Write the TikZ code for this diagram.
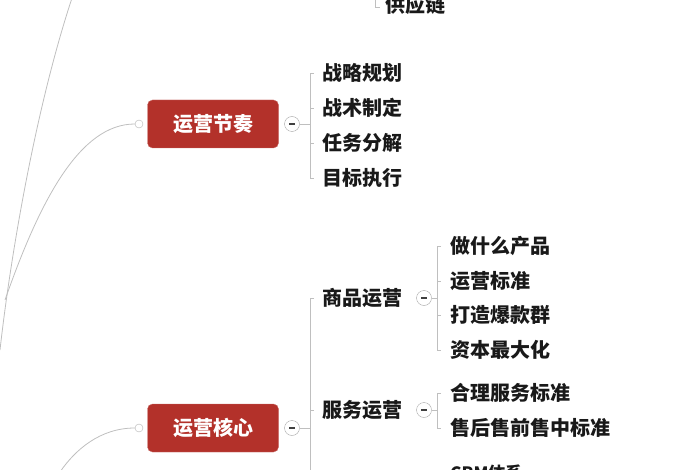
\documentclass[tikz,border=0pt]{standalone}
\usepackage{fontspec}
\setmainfont{Noto Sans CJK SC}
\definecolor{boxred}{HTML}{B3312A}
\begin{document}
\begin{tikzpicture}[x=1pt,y=-1pt,
  redbox/.style={draw=boxred!70, fill=boxred, rounded corners=5pt, minimum width=131pt, minimum height=48pt, text=white, font=\fontsize{20}{22}\selectfont\bfseries},
  leaf/.style={anchor=west, inner sep=0pt, text=black!90, font=\fontsize{20}{22}\selectfont\bfseries},
  conn/.style={draw=black!25, line width=0.8pt},
  knob/.style={circle, draw=black!30, fill=white, minimum size=8pt, inner sep=0pt},
  minus/.style={circle, draw=black!35, fill=white, minimum size=15pt, inner sep=0pt, path picture={\draw[black!75, line width=1.6pt] ([xshift=-3pt]path picture bounding box.center) -- ([xshift=3pt]path picture bounding box.center);}}]
\useasboundingbox (0,0) rectangle (700,470);
\draw[conn] (72,-2) .. controls (35,110) and (10,260) .. (0,350);
\draw[conn] (375,-2) -- (375,7) -- (380,7);
\node[leaf] (gyl) at (385,5) {供应链};
\node[redbox] (jz) at (213,124) {运营节奏};
\node[knob] (jzk) at (139,124) {};
\draw[conn] (jzk.west) .. controls (80,124) and (40,200) .. (5,300);
\node[minus] (jzm) at (292,124) {};
\draw[conn] (jzm.east) -- (310,124);
\draw[conn] (314,73) -- (310,73) -- (310,178) -- (314,178);
\foreach \t/\y/\n in {战略规划/73/a1,战术制定/108/a2,任务分解/143/a3,目标执行/178/a4}{
  \draw[conn] (310,\y) -- (314,\y);
  \node[leaf] (\n) at (322,\y) {\t};
}
\node[redbox] (hx) at (213,428) {运营核心};
\node[knob] (hxk) at (139,428) {};
\draw[conn] (hxk.west) .. controls (100,428) and (75,450) .. (60,472);
\node[minus] (hxm) at (292,428) {};
\draw[conn] (hxm.east) -- (310,428);
\draw[conn] (314,298) -- (310,298) -- (310,472);
\node[leaf] (sp) at (322,298) {商品运营};
\node[minus] (spm) at (424,298) {};
\draw[conn] (spm.east) -- (437,298);
\draw[conn] (441,246) -- (437,246) -- (437,350) -- (441,350);
\foreach \t/\y/\n in {做什么产品/246/b1,运营标准/281/b2,打造爆款群/315/b3,资本最大化/350/b4}{
  \draw[conn] (437,\y) -- (441,\y);
  \node[leaf] (\n) at (450,\y) {\t};
}
\draw[conn] (310,410) -- (314,410);
\node[leaf] (fw) at (322,410) {服务运营};
\node[minus] (fwm) at (424,410) {};
\draw[conn] (fwm.east) -- (437,410);
\draw[conn] (441,393) -- (437,393) -- (437,428) -- (441,428);
\node[leaf] (c1) at (450,393) {合理服务标准};
\node[leaf] (c2) at (450,428) {售后售前售中标准};
\draw[conn] (441,470) -- (437,470) -- (437,475);
\node[leaf, font=\fontsize{17}{20}\selectfont\bfseries] (crm) at (450,473) {CRM体系};
\end{tikzpicture}
\end{document}
